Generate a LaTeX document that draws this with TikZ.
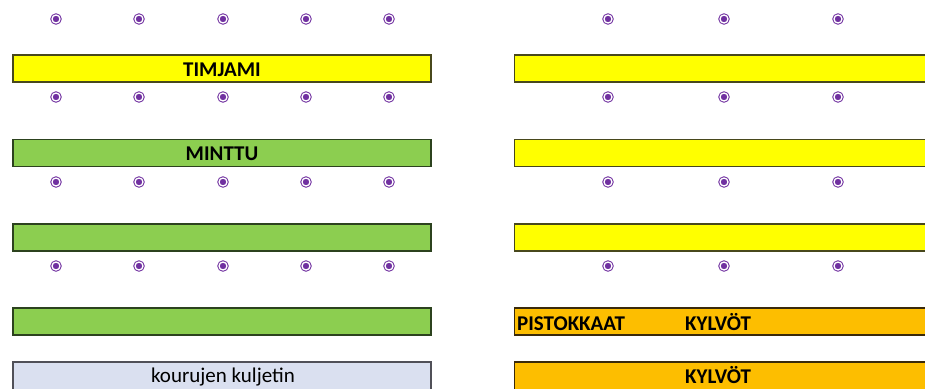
\documentclass[tikz,border=0pt]{standalone}
\usepackage{fontspec}
\setmainfont{Carlito}
\usetikzlibrary{positioning}
\definecolor{Herb}{RGB}{255,255,0}
\definecolor{HerbEdge}{RGB}{72,72,28}
\definecolor{Mint}{RGB}{140,206,80}
\definecolor{MintEdge}{RGB}{44,66,30}
\definecolor{Seedling}{RGB}{253,190,0}
\definecolor{SeedlingEdge}{RGB}{58,42,10}
\definecolor{Conveyor}{RGB}{218,224,240}
\definecolor{ConveyorEdge}{RGB}{80,80,88}
\definecolor{Pot}{RGB}{112,48,160}
\tikzset{
  bar/.style={rectangle,draw,line width=1.4pt,inner sep=0pt,minimum height=27pt},
  leftbar/.style={bar,minimum width=418pt},
  rightbar/.style={bar,minimum width=430pt,anchor=west},
  thyme/.style={fill=Herb,draw=HerbEdge},
  mint/.style={fill=Mint,draw=MintEdge},
  sowing/.style={fill=Seedling,draw=SeedlingEdge},
  conveyor/.style={fill=Conveyor,draw=ConveyorEdge},
  tag/.style={inner sep=0pt,anchor=base,font=\fontsize{21}{21}\selectfont\bfseries,text=black},
  plain/.style={tag,font=\fontsize{21}{21}\selectfont},
  pot/.style={circle,draw=Pot,fill=Pot,line width=1pt,double=white,double distance=1.3pt,minimum size=8pt,inner sep=0pt}
}
\begin{document}
\begin{tikzpicture}[x=1pt,y=-1pt]
  \useasboundingbox (0,0) rectangle (925,388);
  \clip (0,0) rectangle (925,388);
  % left bench
  \node[leftbar,thyme] (timjami) at (222,68.5) {};
  \node[leftbar,mint] (minttu) at (222,153) {};
  \node[leftbar,mint] (mintB) at (222,237.5) {};
  \node[leftbar,mint] (mintC) at (222,321.5) {};
  \node[leftbar,conveyor,minimum height=30pt] (kuljetin) at (222,377) {};
  % right bench
  \node[rightbar,thyme] (oikeaA) at (514,68.5) {};
  \node[rightbar,thyme] (oikeaB) at (514,153) {};
  \node[rightbar,thyme] (oikeaC) at (514,237.5) {};
  \node[rightbar,sowing] (pistokkaat) at (514,321.5) {};
  \node[rightbar,sowing,minimum height=30pt] (kylvot) at (514,377) {};
  % labels
  \node[tag] (timjamiTxt) at (222,76) {TIMJAMI};
  \node[tag] (minttuTxt) at (222,160.5) {MINTTU};
  \node[plain] (kuljetinTxt) at (223,382.5) {kourujen kuljetin};
  \node[tag,anchor=base west] (pistoTxt) at (517,330) {PISTOKKAAT};
  \node[tag] (kylvoTxtA) at (718,330) {KYLVÖT};
  \node[tag] (kylvoTxtB) at (718,383) {KYLVÖT};
  % pots
  \foreach \r/\y in {1/19,2/97,3/182,4/266}{
    \foreach \c/\x in {1/56,2/139,3/223,4/306,5/389}
      \node[pot] (pL\r\c) at (\x,\y) {};
    \foreach \c/\x in {1/608,2/724,3/838}
      \node[pot] (pR\r\c) at (\x,\y) {};
  }
\end{tikzpicture}
\end{document}
